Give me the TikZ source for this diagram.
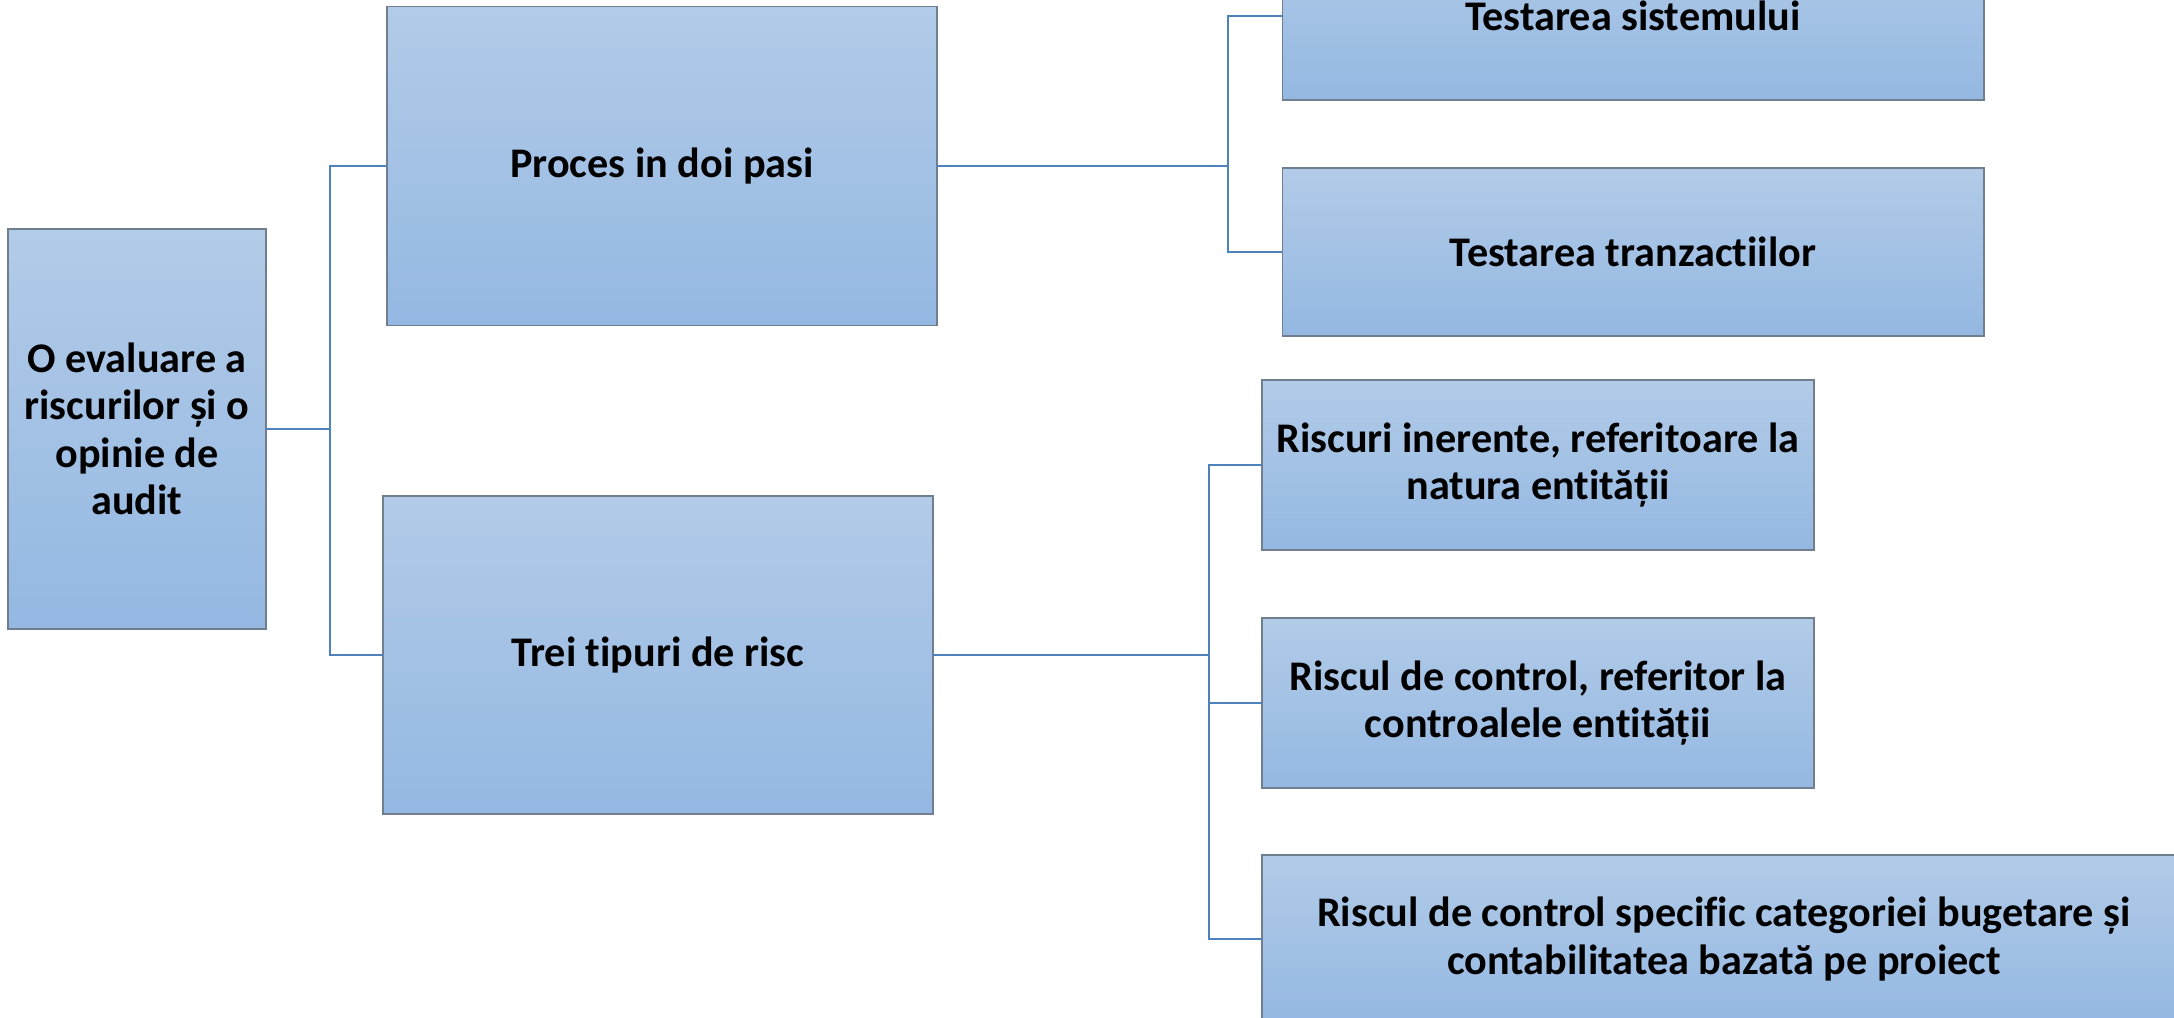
\documentclass[tikz,border=0pt]{standalone}
\usepackage{fontspec}
\setmainfont{Carlito}[RawFeature={-liga}]
\usepackage{tikz}
\definecolor{boxtop}{HTML}{B2CBE8}
\definecolor{boxbottom}{HTML}{94B8E2}
\definecolor{boxline}{HTML}{6F7F8F}
\definecolor{linkblue}{HTML}{4F81BD}

\begin{document}
\begin{tikzpicture}[x=0.01cm, y=-0.01cm,
    box/.style={draw=boxline, line width=0.45pt, top color=boxtop, bottom color=boxbottom,
      inner sep=0pt, outer sep=0pt, align=center,
      font=\fontsize{12}{13.5}\selectfont\bfseries},
    link/.style={draw=linkblue, line width=0.8pt}]

    \useasboundingbox (0,0) rectangle (2174,1017);

    % Root
    \node[box, minimum width=2.58cm, minimum height=4cm] (root) at (137,429)
      {O evaluare a\\riscurilor și o\\opinie de\\audit};

    % Second level
    \node[box, minimum width=5.5cm, minimum height=3.19cm] (proces) at (662,166)
      {Proces in doi pasi};
    \node[box, minimum width=5.5cm, minimum height=3.18cm] (trei) at (658,655)
      {Trei tipuri de risc};

    % Testing
    \node[box, minimum width=7.01cm, minimum height=1.68cm] (sistem) at (1633,16)
      {Testarea sistemului};
    \node[box, minimum width=7.01cm, minimum height=1.68cm] (tranz) at (1633,252)
      {Testarea tranzactiilor};

    % Risk types
    \node[box, minimum width=5.52cm, minimum height=1.70cm] (inerent) at (1538,465)
      {Riscuri inerente, referitoare la\\natura entității};
    \node[box, minimum width=5.52cm, minimum height=1.70cm] (control) at (1538,703)
      {Riscul de control, referitor la\\controalele entității};
    \node[box, minimum width=9.24cm, minimum height=1.68cm] (specific) at (1724,939)
      {Riscul de control specific categoriei bugetare și\\contabilitatea bazată pe proiect};

    % Links
    \coordinate (rootfork) at (330,429);
    \draw[link] (root.east) -- (rootfork) |- (proces.west);
    \draw[link] (rootfork) |- (trei.west);

    \coordinate (procesfork) at (1228,166);
    \draw[link] (proces.east) -- (procesfork) |- (sistem.west);
    \draw[link] (procesfork) |- (tranz.west);

    \coordinate (treifork) at (1209,655);
    \draw[link] (trei.east) -- (treifork) |- (inerent.west);
    \draw[link] (treifork) |- (control.west);
    \draw[link] (treifork) |- (specific.west);

\end{tikzpicture}
\end{document}
